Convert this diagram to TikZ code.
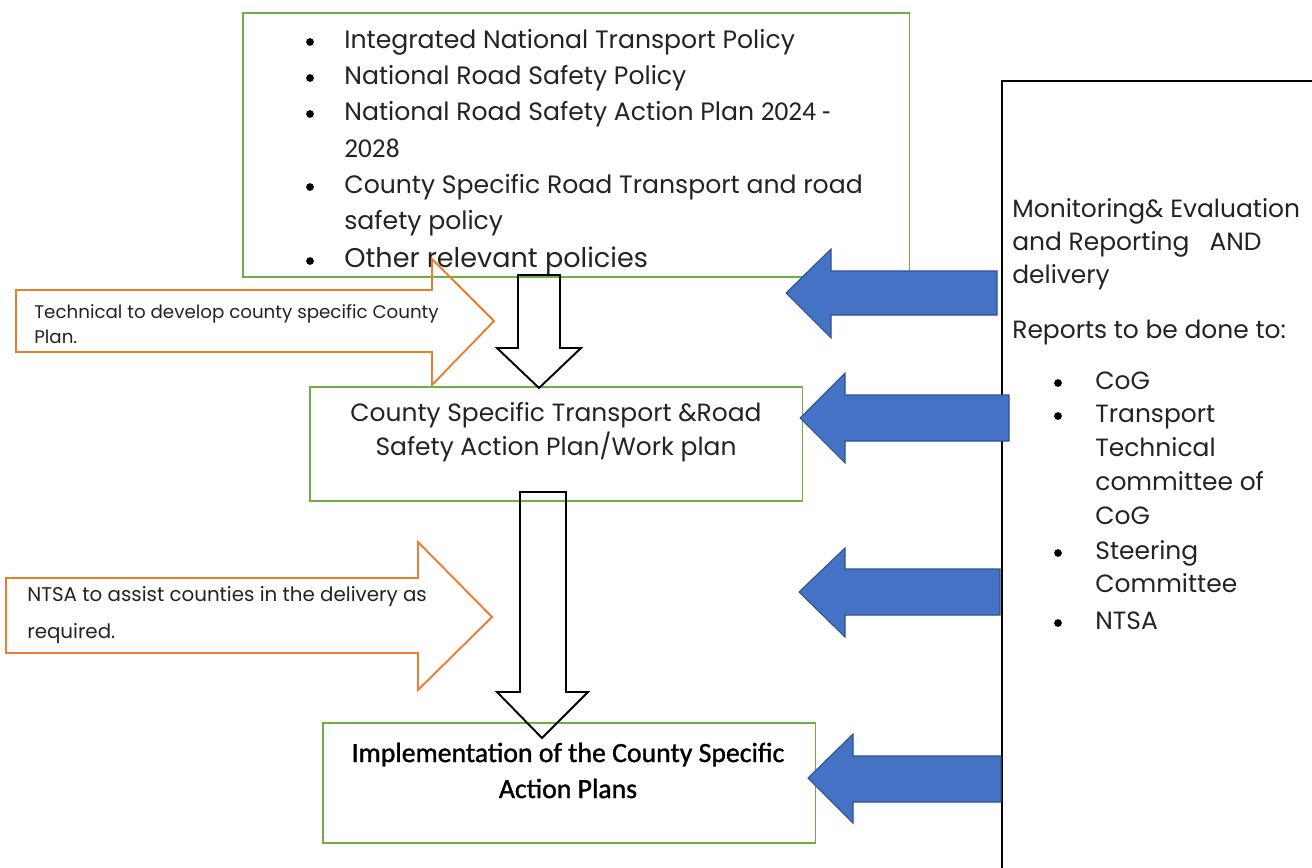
\documentclass[tikz,border=0pt]{standalone}
\usepackage{fontspec}
\setmainfont{Poppins}
\newfontfamily\calib{Carlito}
\newfontfamily\calibb{Carlito}[FakeBold=1.2]
\definecolor{boxgreen}{RGB}{112,173,71}
\definecolor{arrorange}{RGB}{237,125,49}
\definecolor{arrblue}{RGB}{68,114,196}
\definecolor{arrblueline}{RGB}{47,82,143}
\definecolor{txt}{RGB}{35,35,35}
\begin{document}
\begin{tikzpicture}[x=0.02cm,y=-0.02cm,
  greenbox/.style={draw=boxgreen,line width=0.9pt,anchor=north west,inner sep=0pt},
  mebox/.style={draw=black,line width=1.1pt,anchor=north west,inner sep=0pt},
  blockdown/.style={draw=black,line width=1.1pt,line join=miter},
  orangearrow/.style={draw=arrorange,line width=1.1pt,line join=miter},
  bluearrow/.style={fill=arrblue,draw=arrblueline,line width=0.6pt,line join=miter},
  bul/.style={circle,fill=black,inner sep=0pt,minimum size=4.4pt},
  item/.style={anchor=base west,inner sep=0pt,text=txt,font=\fontsize{14.3}{16}\selectfont},
  ritem/.style={anchor=base west,inner sep=0pt,text=txt,font=\fontsize{14.2}{16}\selectfont},
  ctext/.style={anchor=base,inner sep=0pt,text=txt,font=\fontsize{14.2}{16}\selectfont},
  btext/.style={anchor=base,inner sep=0pt,text=black,font=\calibb\fontsize{15.8}{18}\selectfont},
  otext/.style={anchor=base west,inner sep=0pt,text=txt,font=\fontsize{10.4}{12}\selectfont}]
\useasboundingbox (0,0) rectangle (1312,867);

% boxes
\node[greenbox,minimum width=13.34cm,minimum height=5.28cm] (policies) at (242,12) {};
\node[greenbox,minimum width=9.86cm,minimum height=2.28cm] (plan) at (309,386) {};
\node[greenbox,minimum width=9.86cm,minimum height=2.40cm] (impl) at (322,722) {};
\node[mebox,minimum width=7cm,minimum height=17cm] (me) at (1001,80) {};

% top box list
\foreach \y/\n in {48/1,84/2,120/3,193/4,267/5}
  \node[bul] (b\n) at (310,\y-6) {};
\node[item] (p1) at (344,48) {Integrated National Transport Policy};
\node[item] (p2) at (344,84) {National Road Safety Policy};
\node[item] (p3) at (344,120) {National Road Safety Action Plan {\calib\fontsize{15.5}{16}\selectfont 2024 -}};
\node[item,font=\calib\fontsize{15.5}{16}\selectfont] (p3b) at (344,157) {2028};
\node[item] (p4) at (344,193) {County Specific Road Transport and road};
\node[item] (p4b) at (344,229) {safety policy};
\node[item,font=\fontsize{15.4}{16}\selectfont] (p5) at (344,267) {Other relevant policies};

% middle box
\node[ctext] (m1) at (556,421) {County Specific Transport \&Road};
\node[ctext] (m2) at (556,455) {Safety Action Plan/Work plan};

% bottom box
\node[btext] (i1) at (568,762) {Implementation of the County Specific};
\node[btext] (i2) at (568,798) {Action Plans};

% right box
\node[ritem] (r1) at (1012,217) {Monitoring\& Evaluation};
\node[ritem] (r2) at (1012,250) {and Reporting \ \ AND};
\node[ritem] (r3) at (1012,283) {delivery};
\node[ritem] (r4) at (1012,338) {Reports to be done to:};
\foreach \y/\n in {389/1,422/2,559/3,629/4}
  \node[bul] (rb\n) at (1058,\y-6) {};
\node[ritem] (s1) at (1095,389) {CoG};
\node[ritem] (s2) at (1095,422) {Transport};
\node[ritem] (s3) at (1095,456) {Technical};
\node[ritem] (s4) at (1095,490) {committee of};
\node[ritem] (s5) at (1095,524) {CoG};
\node[ritem] (s6) at (1095,559) {Steering};
\node[ritem] (s7) at (1095,592) {Committee};
\node[ritem] (s8) at (1095,629) {NTSA};

% white down arrows
\draw[blockdown] (518,275) -- (560,275) -- (560,348) -- (581,348) -- (539,388) -- (497,348) -- (518,348) -- cycle;
\draw[blockdown] (520,492) -- (566,492) -- (566,692) -- (588,692) -- (542,738) -- (497,692) -- (520,692) -- cycle;

% orange arrows
\draw[orangearrow] (16,290) -- (432,290) -- (432,259) -- (494,321) -- (432,385) -- (432,352) -- (16,352) -- cycle;
\draw[orangearrow] (6,578) -- (418,578) -- (418,542) -- (492,617) -- (418,690) -- (418,653) -- (6,653) -- cycle;
\node[otext] (o1) at (34,318) {Technical to develop county specific County};
\node[otext] (o1b) at (34,343) {Plan.};
\node[otext,font=\fontsize{11.3}{12}\selectfont] (o2) at (27,601) {NTSA to assist counties in the delivery as};
\node[otext,font=\fontsize{11.3}{12}\selectfont] (o2b) at (27,638) {required.};

% blue arrows
\draw[bluearrow] (997,271) -- (831,271) -- (831,249) -- (786,293) -- (831,338) -- (831,315) -- (997,315) -- cycle;
\draw[bluearrow] (1009,395) -- (845,395) -- (845,373) -- (800,418) -- (845,463) -- (845,441) -- (1009,441) -- cycle;
\draw[bluearrow] (1000,569) -- (845,569) -- (845,548) -- (799,592) -- (845,637) -- (845,615) -- (1000,615) -- cycle;
\draw[bluearrow] (1001,756) -- (853,756) -- (853,734) -- (808,778) -- (853,823) -- (853,802) -- (1001,802) -- cycle;
\end{tikzpicture}
\end{document}
